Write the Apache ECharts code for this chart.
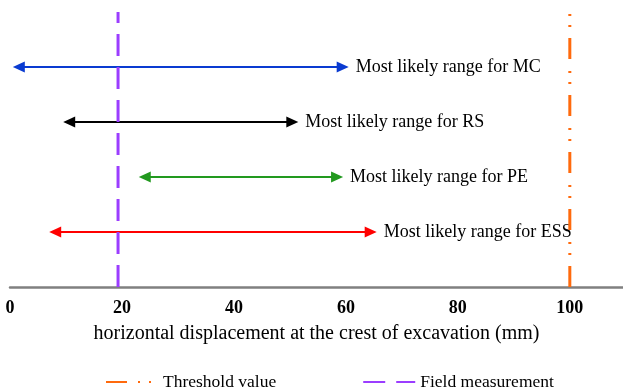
<!DOCTYPE html>
<html>
<head>
<meta charset="utf-8">
<script src="https://cdn.jsdelivr.net/npm/echarts@6/dist/echarts.min.js"></script>
<style>
  html, body { margin: 0; padding: 0; background: #fff; }
  #chart { width: 623px; height: 391px; }
</style>
</head>
<body>
<div id="chart"></div>
<script>
// Most likely ranges of horizontal displacement (mm) for each method
const methods = ['MC', 'RS', 'PE', 'ESS'];
const rangeLow = [0.5, 9.5, 23, 7];
const rangeHigh = [60.5, 51.5, 59.5, 65.5];
const rowLevel = [4, 3, 2, 1];

// Reference lines (mm)
const thresholdValue = 100;
const fieldMeasurement = 19.3;

const arrowColors = ['#0a3bd1', '#000000', '#22991f', '#ff0000'];
const serif = 'Liberation Serif';

const chart = echarts.init(document.getElementById('chart'), null, { renderer: 'canvas' });

function renderArrow(params, api) {
  const lo = api.value(0), hi = api.value(1), row = api.value(2), idx = api.value(3);
  const p0 = api.coord([lo, row]);
  const p1 = api.coord([hi, row]);
  const color = arrowColors[idx];
  const len = 12, half = 5.5;
  return {
    type: 'group',
    children: [
      {
        type: 'line',
        shape: { x1: p0[0] + len - 1, y1: p0[1], x2: p1[0] - len + 1, y2: p1[1] },
        style: { stroke: color, lineWidth: 2 }
      },
      {
        type: 'polygon',
        shape: { points: [[p0[0], p0[1]], [p0[0] + len, p0[1] - half], [p0[0] + len, p0[1] + half]] },
        style: { fill: color }
      },
      {
        type: 'polygon',
        shape: { points: [[p1[0], p1[1]], [p1[0] - len, p1[1] - half], [p1[0] - len, p1[1] + half]] },
        style: { fill: color }
      },
      {
        type: 'text',
        x: p1[0] + 7,
        y: p1[1],
        style: {
          text: 'Most likely range for ' + methods[idx],
          font: '18px "' + serif + '"',
          fill: '#000',
          verticalAlign: 'middle',
          align: 'left'
        }
      }
    ]
  };
}

const option = {
  animation: false,
  backgroundColor: '#fff',
  grid: { left: 10, right: 0, top: 12, bottom: 104, containLabel: false },
  xAxis: {
    type: 'value',
    min: 0,
    max: 109.5,
    interval: 20,
    name: 'horizontal displacement at the crest of excavation (mm)',
    nameLocation: 'middle',
    nameGap: 37,
    nameTextStyle: { fontFamily: serif, fontSize: 20, color: '#000' },
    axisLine: { show: true, lineStyle: { color: '#808080', width: 2.5 } },
    axisTick: { show: false },
    splitLine: { show: false },
    axisLabel: {
      showMaxLabel: false,
      margin: 12,
      fontFamily: serif,
      fontSize: 18,
      fontWeight: 'bold',
      color: '#000'
    }
  },
  yAxis: { type: 'value', min: 0, max: 5, show: false },
  legend: {
    data: ['Threshold value', 'Field measurement'],
    left: 100,
    top: 368,
    itemWidth: 52,
    itemHeight: 14,
    itemGap: 86,
    itemStyle: { opacity: 0 },
    textStyle: { fontFamily: serif, fontSize: 17.5, color: '#000' }
  },
  series: [
    {
      type: 'custom',
      name: 'ranges',
      renderItem: renderArrow,
      encode: { x: [0, 1], y: 2 },
      data: methods.map((m, i) => [rangeLow[i], rangeHigh[i], rowLevel[i], i]),
      z: 2
    },
    {
      type: 'line',
      name: 'Threshold value',
      data: [[thresholdValue, 0], [thresholdValue, 5]],
      symbol: 'none',
      lineStyle: { color: '#ff6a0d', width: 3, type: [21, 11, 2, 9, 2, 12] },
      itemStyle: { color: '#ff6a0d' },
      z: 3
    },
    {
      type: 'line',
      name: 'Field measurement',
      data: [[fieldMeasurement, 0], [fieldMeasurement, 5]],
      symbol: 'none',
      lineStyle: { color: '#9b3dff', width: 3, type: [22, 11] },
      itemStyle: { color: '#9b3dff' },
      z: 3
    }
  ]
};

chart.setOption(option);
</script>
</body>
</html>
